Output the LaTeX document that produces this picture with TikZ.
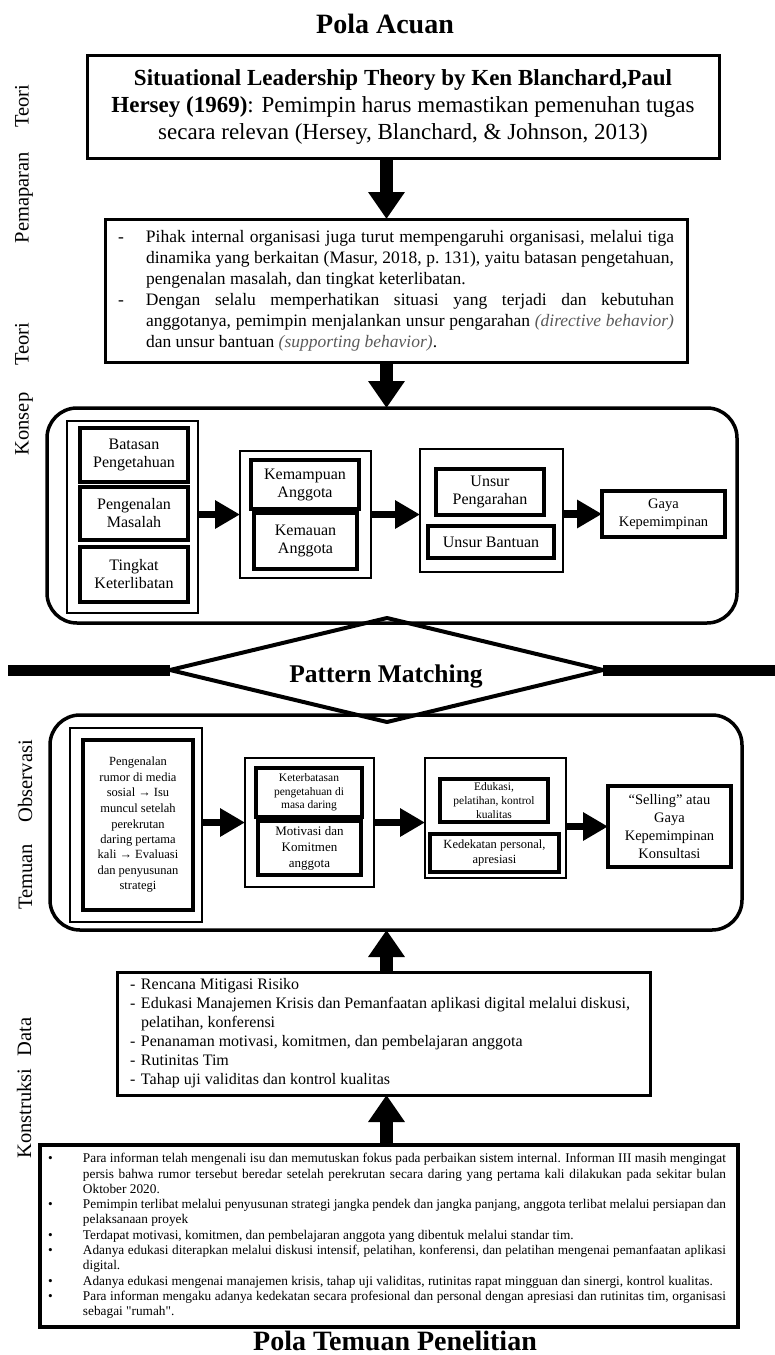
\documentclass[tikz,border=0pt]{standalone}
\usepackage{fontspec}
\setmainfont{Liberation Serif}
\newfontfamily\rawserif[Ligatures=TeXOff]{Liberation Serif}
\usetikzlibrary{arrows.meta}
\definecolor{muted}{RGB}{90,90,90}
\newcommand\fsz[2]{\fontsize{#1pt}{#2pt}\selectfont}
\newcommand\hangmark[2]{\leavevmode\llap{\makebox[#1][l]{#2}}}
\newcommand\plainquote{{\rawserif"}}
\begin{document}
\begin{tikzpicture}[x=1pt,y=-1pt,
  every node/.style={inner sep=0pt,outer sep=0pt},
  span/.style args={#1/#2/#3/#4}{minimum width={#3-#1},minimum height={#4-#2},
    at={({(#1+#3)/2},{(#2+#4)/2})}},
  headline/.style={font=\fsz{28}{32}\bfseries},
  sheet/.style={draw,line width=3pt,align=center},
  panel/.style={draw,line width=3.5pt,rounded corners=30pt},
  grp/.style={draw,line width=2.4pt},
  cell/.style={draw,line width=3.2pt,align=center},
  sidelabel/.style={rotate=90,font=\fsz{20.5}{24}},
  bigarrow/.style={line width=13pt,-{Triangle[width=35pt,length=27pt]}},
  flow/.style={line width=7.5pt,-{Triangle[width=27pt,length=25pt]}},
]
\useasboundingbox (0,0) rectangle (775,1355);

% ---- headings ----
\node[headline,anchor=base] (head) at (385,33) {Pola Acuan};
\node[headline,anchor=base] (foot) at (395,1350) {Pola Temuan Penelitian};

% ---- side labels ----
\node[sidelabel] (lab1) at (24,164) {Pemaparan\hspace{24pt}Teori};
\node[sidelabel] (lab2) at (24,389) {Konsep\hspace{27pt}Teori};
\node[sidelabel] (lab3) at (25,825) {Temuan\hspace{22pt}Observasi};
\node[sidelabel] (lab4) at (24,1088) {Konstruksi\hspace{12pt}Data};

% ---- theory ----
\node[sheet,span=87/55/719/158,font=\fsz{23}{27}] (theory)
  {\textbf{Situational Leadership Theory by Ken Blanchard,Paul}\\
   \textbf{Hersey (1969)}: Pemimpin harus memastikan pemenuhan tugas\\
   secara relevan (Hersey, Blanchard, \& Johnson, 2013)};

\node[sheet,span=105/219/687/362] (dyn) {\parbox{556pt}{\fsz{17.5}{21}\leftskip=28pt
  \hangmark{28pt}{-}Pihak internal organisasi juga turut mempengaruhi organisasi, melalui tiga\linebreak
  dinamika yang berkaitan (Masur, 2018, p.~131), yaitu batasan pengetahuan,\linebreak
  pengenalan masalah, dan tingkat keterlibatan.\par
  \hangmark{28pt}{-}Dengan selalu memperhatikan situasi yang terjadi dan kebutuhan\linebreak
  anggotanya, pemimpin menjalankan unsur pengarahan {\color{muted}\itshape(directive behavior)}\linebreak
  dan unsur bantuan {\color{muted}\itshape(supporting behavior)}.}};

% ---- concept panel ----
\node[panel,span=47/408/737/623] (konsep) {};
\node[grp,span=67/421/198/613] (kg1) {};
\node[cell,span=80/428/188/482,font=\fsz{16}{18}] (kb1) {Batasan\\Pengetahuan};
\node[cell,span=80/487/188/540,font=\fsz{16}{18}] (kb2) {Pengenalan\\Masalah};
\node[cell,span=80/547/188/602,font=\fsz{16}{18}] (kb3) {Tingkat\\Keterlibatan};
\node[grp,span=240/451/371/578] (kg2) {};
\node[cell,span=251/460/359/509,font=\fsz{16}{18}] (kb4) {Kemampuan\\Anggota};
\node[cell,span=254/513/357/569,font=\fsz{16}{18}] (kb5) {Kemauan\\Anggota};
\node[grp,span=420/449/563/572] (kg3) {};
\node[cell,span=436/469/544/515,font=\fsz{16}{18}] (kb6) {Unsur\\Pengarahan};
\node[cell,span=428/526/554/558,font=\fsz{16}{18}] (kb7) {Unsur Bantuan};
\node[cell,span=602/491/725/537,font=\fsz{14.5}{18}] (gaya) {Gaya\\Kepemimpinan};
\draw[flow] (kg1.east |- kg2.west) -- (kg2.west);
\draw[flow] (kg2.east) -- (kg2.east -| kg3.west);
\draw[flow] (kg3.east |- gaya.west) -- (gaya.west);

% ---- pattern matching ----
\coordinate (pmL) at (170,670);
\coordinate (pmT) at (387,618);
\coordinate (pmR) at (603,670);
\coordinate (pmB) at (387,722);
\coordinate (edgeL) at (8,670);
\coordinate (edgeR) at (775,670);
\draw[line width=11pt] (edgeL) -- (pmL);
\draw[line width=11pt] (pmR) -- (edgeR);
\draw[line width=4pt,line join=round] (pmL) -- (pmT) -- (pmR) -- (pmB) -- cycle;
\node[font=\fsz{25.5}{28}\bfseries,anchor=base] (pm) at (386,682) {Pattern Matching};

% ---- observation panel ----
\node[panel,span=50/715/742/930] (temuan) {};
\node[grp,span=70/728/202/922] (tg1) {};
\node[cell,span=83/740/193/910,font=\fsz{12.5}{15.5}] (tb1)
  {Pengenalan\\rumor di media\\sosial → Isu\\muncul setelah\\perekrutan\\daring pertama\\kali → Evaluasi\\dan penyusunan\\strategi};
\node[grp,span=245/758/374/887] (tg2) {};
\node[cell,span=256/768/362/817,font=\fsz{11.5}{13.5}] (tb2) {Keterbatasan\\pengetahuan di\\masa daring};
\node[cell,span=258/821/361/875,font=\fsz{13}{16}] (tb3) {Motivasi dan\\Komitmen\\anggota};
\node[grp,span=425/758/566/878] (tg3) {};
\node[cell,span=440/779/548/822,font=\fsz{11.5}{14}] (tb4) {Edukasi,\\pelatihan, kontrol\\kualitas};
\node[cell,span=430/834/559/872,font=\fsz{12.5}{15}] (tb5) {Kedekatan personal,\\apresiasi};
\node[cell,span=608/786/731/867,font=\fsz{14.5}{18}] (sell) {“Selling” atau\\Gaya\\Kepemimpinan\\Konsultasi};
\draw[flow] (tg1.east |- tg2.west) -- (tg2.west);
\draw[flow] (tg2.east) -- (tg2.east -| tg3.west);
\draw[flow] (tg3.east |- sell.west) -- (sell.west);

% ---- data construction ----
\node[sheet,span=117/972/650/1095] (mitig) {\parbox{500pt}{\fsz{16}{19}\leftskip=11pt
  \hangmark{11pt}{-}Rencana Mitigasi Risiko\par
  \hangmark{11pt}{-}Edukasi Manajemen Krisis dan Pemanfaatan aplikasi digital melalui diskusi,\linebreak
  pelatihan, konferensi\par
  \hangmark{11pt}{-}Penanaman motivasi, komitmen, dan pembelajaran anggota\par
  \hangmark{11pt}{-}Rutinitas Tim\par
  \hangmark{11pt}{-}Tahap uji validitas dan kontrol kualitas}\hspace{7pt}};

\node[sheet,line width=3.5pt,span=40/1145/738/1327] (facts) {\parbox{678pt}{\fsz{13.3}{15.3}\leftskip=35pt
  \hangmark{35pt}{•}Para informan telah mengenali isu dan memutuskan fokus pada perbaikan sistem internal. Informan III masih mengingat\linebreak
  persis bahwa rumor tersebut beredar setelah perekrutan secara daring yang pertama kali dilakukan pada sekitar bulan\linebreak
  Oktober 2020.\par
  \hangmark{35pt}{•}Pemimpin terlibat melalui penyusunan strategi jangka pendek dan jangka panjang, anggota terlibat melalui persiapan dan\linebreak
  pelaksanaan proyek\par
  \hangmark{35pt}{•}Terdapat motivasi, komitmen, dan pembelajaran anggota yang dibentuk melalui standar tim.\par
  \hangmark{35pt}{•}Adanya edukasi diterapkan melalui diskusi intensif, pelatihan, konferensi, dan pelatihan mengenai pemanfaatan aplikasi\linebreak
  digital.\par
  \hangmark{35pt}{•}Adanya edukasi mengenai manajemen krisis, tahap uji validitas, rutinitas rapat mingguan dan sinergi, kontrol kualitas.\par
  \hangmark{35pt}{•}Para informan mengaku adanya kedekatan secara profesional dan personal dengan apresiasi dan rutinitas tim, organisasi\linebreak
  sebagai \plainquote rumah\plainquote.}\hspace{4pt}};

% ---- vertical connectors ----
\coordinate (axis) at (386.5,0);
\draw[bigarrow] (theory.south -| axis) -- (dyn.north -| axis);
\draw[bigarrow] (dyn.south -| axis) -- (konsep.north -| axis);
\draw[bigarrow] (mitig.north -| axis) -- (temuan.south -| axis);
\draw[bigarrow] (facts.north -| axis) -- (mitig.south -| axis);
\end{tikzpicture}
\end{document}
